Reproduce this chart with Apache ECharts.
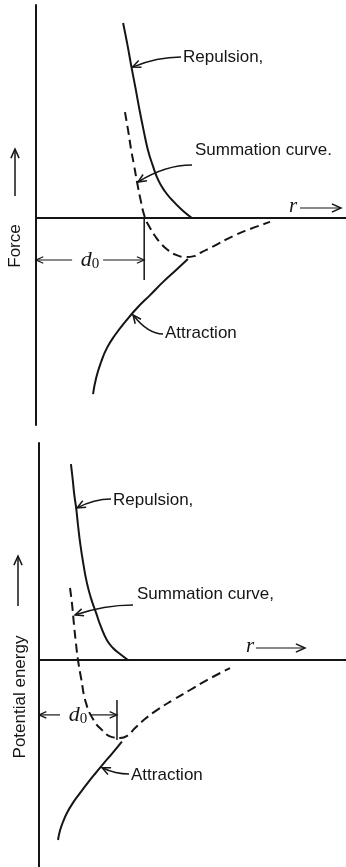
<!DOCTYPE html>
<html>
<head>
<meta charset="utf-8">
<script src="https://cdn.jsdelivr.net/npm/echarts@6/dist/echarts.min.js"></script>
<style>
	* {
		margin: 0;
		padding: 0;
	}
	body {
		background: #fff;
	}
	#main {
		width: 346px;
		height: 867px;
	}
</style>
</head>
<body>
<div id="main"></div>
<script>
	// Force panel: [r, F] in arbitrary units
	var forceRepulsion = [[2.81, 6.5], [2.95, 5.77], [3.08, 5.03], [3.21, 4.33], [3.34, 3.6], [3.47, 2.93], [3.61, 2.27],
		[3.76, 1.77], [3.94, 1.27], [4.15, 0.9], [4.39, 0.6], [4.71, 0.27], [5.03, 0]];
	var forceSummation = [[2.87, 3.53], [2.97, 2.93], [3.07, 2.27], [3.16, 1.77], [3.26, 1.2], [3.36, 0.67], [3.52, 0],
		[3.68, -0.33], [3.84, -0.6], [4.07, -0.9], [4.26, -1.07], [4.52, -1.23], [4.84, -1.3], [5.1, -1.27],
		[5.36, -1.13], [5.68, -0.97], [6.36, -0.6], [6.9, -0.37], [7.55, -0.13]];
	var forceAttraction = [[1.84, -5.87], [1.94, -5.33], [2.1, -4.8], [2.29, -4.33], [2.55, -3.9], [2.87, -3.47],
		[3.26, -3.0], [3.68, -2.57], [4.1, -2.13], [4.52, -1.73], [4.9, -1.37]];
	var forceD0 = 3.49;

	// Potential energy panel: [r, E]
	var energyRepulsion = [[1.04, 6.53], [1.1, 6.0], [1.15, 5.5], [1.21, 5.07], [1.27, 4.5], [1.35, 3.83], [1.45, 3.17],
		[1.56, 2.57], [1.69, 2.07], [1.86, 1.57], [2.02, 1.1], [2.21, 0.67], [2.41, 0.4], [2.64, 0.2], [2.9, 0]];
	var energySummation = [[1.01, 2.4], [1.08, 1.83], [1.14, 1.17], [1.21, 0.5], [1.27, 0], [1.37, -0.6], [1.53, -1.43],
		[1.76, -1.97], [2.05, -2.33], [2.38, -2.57], [2.64, -2.6], [2.87, -2.53], [3.13, -2.27], [3.45, -1.97],
		[3.84, -1.67], [4.37, -1.33], [4.92, -1.0], [5.47, -0.67], [6.22, -0.27]];
	var energyAttraction = [[0.62, -6.0], [0.68, -5.7], [0.78, -5.4], [0.91, -5.1], [1.1, -4.77], [1.34, -4.43],
		[1.6, -4.08], [1.86, -3.75], [2.12, -3.43], [2.38, -3.12], [2.7, -2.72]];
	var energyD0 = 2.54;

	var forceLabels = ['Repulsion,', 'Summation curve.', 'Attraction'];
	var energyLabels = ['Repulsion,', 'Summation curve,', 'Attraction'];
	var axisNames = ['Force', 'Potential energy'];

	var ink = '#151515';
	var chart = echarts.init(document.getElementById('main'));

	function curve(name, data, grid, dashed) {
		return {
			name: name,
			type: 'line',
			xAxisIndex: grid,
			yAxisIndex: grid,
			data: data,
			smooth: 0.5,
			showSymbol: false,
			silent: true,
			lineStyle: {
				color: ink,
				width: 2,
				type: dashed ? [9, 5] : 'solid'
			}
		}
	}

	function xAx(grid) {
		return {
			type: 'value', gridIndex: grid, min: 0, max: 10,
			axisLine: { onZero: true, lineStyle: { color: ink, width: 2 } },
			axisTick: { show: false }, axisLabel: { show: false }, splitLine: { show: false }
		}
	}

	function yAx(grid, min, max) {
		return {
			type: 'value', gridIndex: grid, min: min, max: max,
			axisLine: { show: true, onZero: false, lineStyle: { color: ink, width: 2 } },
			axisTick: { show: false }, axisLabel: { show: false }, splitLine: { show: false }
		}
	}

	chart.setOption({
		animation: false,
		backgroundColor: '#fff',
		grid: [
			{ left: 36, top: 5, width: 310, height: 420 },
			{ left: 39, top: 443, width: 307, height: 424 }
		],
		xAxis: [xAx(0), xAx(1)],
		yAxis: [yAx(0, -6.9, 7.1), yAx(1, -6.9, 7.233)],
		series: [
			curve('Repulsion', forceRepulsion, 0, false),
			curve('Summation', forceSummation, 0, true),
			curve('Attraction', forceAttraction, 0, false),
			curve('Repulsion', energyRepulsion, 1, false),
			curve('Summation', energySummation, 1, true),
			curve('Attraction', energyAttraction, 1, false)
		]
	});

	function px(grid, pt) {
		return chart.convertToPixel({ gridIndex: grid }, pt);
	}

	function mid(a, b) {
		return [(a[0] + b[0]) / 2, (a[1] + b[1]) / 2];
	}

	// open chevron head at tip, coming from point "from"
	function head(tip, from, len, w) {
		var a = Math.atan2(tip[1] - from[1], tip[0] - from[0]);
		var s = 0.42;
		return {
			type: 'polyline',
			shape: {
				points: [
					[tip[0] - len * Math.cos(a - s), tip[1] - len * Math.sin(a - s)],
					tip,
					[tip[0] - len * Math.cos(a + s), tip[1] - len * Math.sin(a + s)]
				]
			},
			style: { stroke: ink, lineWidth: w || 1.5, fill: null }
		}
	}

	function seg(a, b, w) {
		return {
			type: 'line',
			shape: { x1: a[0], y1: a[1], x2: b[0], y2: b[1] },
			style: { stroke: ink, lineWidth: w || 1.5 }
		}
	}

	function leader(start, tip) {
		var cp = [tip[0] + 0.5 * (start[0] - tip[0]), start[1]];
		return [{
			type: 'bezierCurve',
			shape: { x1: start[0], y1: start[1], x2: tip[0], y2: tip[1], cpx1: cp[0], cpy1: cp[1] },
			style: { stroke: ink, lineWidth: 1.5, fill: null }
		}, head(tip, cp, 9)];
	}

	function label(text, x, y) {
		return {
			type: 'text', x: x, y: y,
			style: {
				text: text, fill: ink, font: '17px "Liberation Sans", Arial, sans-serif',
				verticalAlign: 'middle', align: 'left'
			}
		}
	}

	function vlabel(text, x, y) {
		return {
			type: 'text', x: x, y: y, rotation: Math.PI / 2,
			style: {
				text: text, fill: ink, font: '17px "Liberation Sans", Arial, sans-serif',
				verticalAlign: 'middle', align: 'center'
			}
		}
	}

	function italic(text, x, y) {
		return {
			type: 'text', x: x, y: y,
			style: {
				text: text, fill: ink, font: 'italic 21px "Liberation Serif", "Times New Roman", serif',
				verticalAlign: 'middle', align: 'left'
			}
		}
	}

	function d0Label(cx, y) {
		return {
			type: 'text', x: cx, y: y,
			style: {
				text: '{d|d}{s|0}', align: 'center', verticalAlign: 'middle',
				rich: {
					d: { fill: ink, font: 'italic 22px "Liberation Serif", serif', verticalAlign: 'middle' },
					s: { fill: ink, font: '15px "Liberation Serif", serif', padding: [9, 0, 0, 0] }
				}
			}
		}
	}

	function d0Marker(grid, d0, yLine, yTop, yBottom) {
		var left = px(grid, [0, yLine]);
		var right = px(grid, [d0, yLine]);
		var cx = (left[0] + right[0]) / 2;
		var out = [];
		out.push(seg(px(grid, [d0, yTop]), px(grid, [d0, yBottom]), 1.5));
		out.push(seg(left, [cx - 18, left[1]], 1.2));
		out.push(head(left, [cx, left[1]], 8, 1.2));
		out.push(seg([cx + 13, right[1]], right, 1.2));
		out.push(head(right, [cx, right[1]], 8, 1.2));
		out.push(d0Label(cx, left[1]));
		return out;
	}

	var g = [];

	// Force panel annotations
	g.push(label(forceLabels[0], 183, 57));
	g = g.concat(leader([181, 57], [px(0, forceRepulsion[2])[0] + 1, px(0, forceRepulsion[2])[1]]));
	g.push(label(forceLabels[1], 195, 150));
	g = g.concat(leader([192, 165], [px(0, forceSummation[4])[0] + 1, px(0, forceSummation[4])[1]]));
	g.push(label(forceLabels[2], 165, 333));
	var faTip = mid(px(0, forceAttraction[5]), px(0, forceAttraction[6]));
	g = g.concat(leader([163, 334], [faTip[0] + 2, faTip[1]]));
	g = g.concat(d0Marker(0, forceD0, -1.4, 0, -2.07));
	g.push(vlabel(axisNames[0], 15, 246));
	g.push(seg([15, 196], [15, 149], 1.5));
	g.push(head([15, 149], [15, 196], 10));
	g.push(italic('r', 289, 206));
	g.push(seg([300, 208], [340, 208], 1.2));
	g.push(head([341, 208], [300, 208], 10));

	// Potential energy panel annotations
	g.push(label(energyLabels[0], 113, 500));
	g = g.concat(leader([111, 499], [px(1, energyRepulsion[3])[0] + 1, px(1, energyRepulsion[3])[1]]));
	g.push(label(energyLabels[1], 137, 594));
	var sTip = mid(px(1, energySummation[1]), px(1, energySummation[2]));
	g = g.concat(leader([133, 605], [sTip[0] + 2, sTip[1]]));
	g.push(label(energyLabels[2], 131, 775));
	var aTip = mid(px(1, energyAttraction[7]), px(1, energyAttraction[8]));
	g = g.concat(leader([129, 774], [aTip[0] + 2, aTip[1]]));
	g = g.concat(d0Marker(1, energyD0, -1.83, -1.33, -2.67));
	g.push(vlabel(axisNames[1], 20, 697));
	g.push(seg([18, 606], [18, 556], 1.5));
	g.push(head([18, 556], [18, 606], 10));
	g.push(italic('r', 246, 646));
	g.push(seg([256, 648], [304, 648], 1.2));
	g.push(head([305, 648], [256, 648], 10));

	chart.setOption({ graphic: g });
</script>
</body>
</html>
